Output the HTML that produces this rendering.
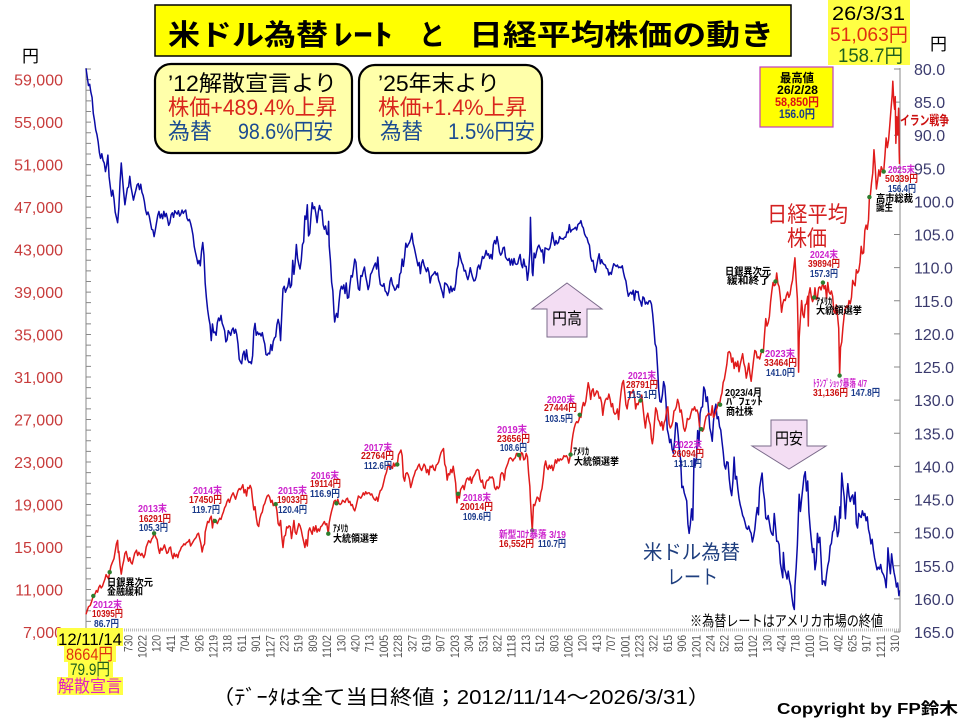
<!DOCTYPE html>
<html><head><meta charset="utf-8"><style>
html,body{margin:0;padding:0;background:#fff;}
svg{display:block;}
.jp{font-family:"Liberation Sans","Noto Sans CJK JP",sans-serif;}
.an{font-family:"Liberation Sans","Noto Sans CJK JP",sans-serif;font-weight:bold;font-size:10px;}
.mg{fill:#CC22CC}.rd{fill:#CC1111}.bl{fill:#1A3A8A}.bk{fill:#000}
</style></head><body>
<svg width="960" height="720" viewBox="0 0 960 720" xmlns="http://www.w3.org/2000/svg" class="jp">
<rect x="0" y="0" width="960" height="720" fill="#fff"/>

<!-- axes -->
<line x1="86" y1="68" x2="86" y2="632" stroke="#888" stroke-width="1"/>
<line x1="88.5" y1="632.5" x2="88.5" y2="68" stroke="#888" stroke-width="5" stroke-dasharray="1 9.623"/>
<line x1="900" y1="68" x2="900" y2="632" stroke="#888" stroke-width="1"/>
<line x1="897" y1="632.5" x2="897" y2="68" stroke="#888" stroke-width="6" stroke-dasharray="1 32.12"/>
<line x1="86" y1="630" x2="900" y2="630" stroke="#bbb" stroke-width="3" stroke-dasharray="1 1"/>

<!-- left labels -->
<g font-size="16" fill="#C83C3C" text-anchor="end" font-family="Liberation Sans, sans-serif">
<text x="63" y="85.6">59,000</text><text x="63" y="128.1">55,000</text><text x="63" y="170.6">51,000</text>
<text x="63" y="213.1">47,000</text><text x="63" y="255.6">43,000</text><text x="63" y="298.1">39,000</text>
<text x="63" y="340.6">35,000</text><text x="63" y="383">31,000</text><text x="63" y="425.5">27,000</text>
<text x="63" y="468">23,000</text><text x="63" y="510.5">19,000</text><text x="63" y="553">15,000</text>
<text x="63" y="595.5">11,000</text><text x="63" y="638">7,000</text>
</g>
<!-- right labels -->
<g font-size="16" fill="#3B3B6E" font-family="Liberation Sans, sans-serif">
<text x="914" y="75">80.0</text><text x="914" y="108.1">85.0</text><text x="914" y="141.2">90.0</text>
<text x="914" y="174.4">95.0</text><text x="914" y="207.5">100.0</text><text x="914" y="240.6">105.0</text>
<text x="914" y="273.7">110.0</text><text x="914" y="306.8">115.0</text><text x="914" y="340">120.0</text>
<text x="914" y="373.1">125.0</text><text x="914" y="406.2">130.0</text><text x="914" y="439.3">135.0</text>
<text x="914" y="472.4">140.0</text><text x="914" y="505.6">145.0</text><text x="914" y="538.7">150.0</text>
<text x="914" y="571.8">155.0</text><text x="914" y="604.9">160.0</text><text x="914" y="638">165.0</text>
</g>
<text x="22" y="62" font-size="17" fill="#000">円</text>
<text x="930" y="50" font-size="17" fill="#000">円</text>

<!-- x labels -->
<g font-size="12" fill="#555" text-anchor="end" font-family="Liberation Sans, sans-serif" lengthAdjust="spacingAndGlyphs">
<text transform="translate(132.3,635) rotate(-90)" textLength="17" lengthAdjust="spacingAndGlyphs">730</text>
<text transform="translate(146.5,635) rotate(-90)" textLength="23" lengthAdjust="spacingAndGlyphs">1022</text>
<text transform="translate(160.7,635) rotate(-90)" textLength="17" lengthAdjust="spacingAndGlyphs">120</text>
<text transform="translate(174.9,635) rotate(-90)" textLength="17" lengthAdjust="spacingAndGlyphs">411</text>
<text transform="translate(189.1,635) rotate(-90)" textLength="17" lengthAdjust="spacingAndGlyphs">704</text>
<text transform="translate(203.3,635) rotate(-90)" textLength="17" lengthAdjust="spacingAndGlyphs">926</text>
<text transform="translate(217.5,635) rotate(-90)" textLength="23" lengthAdjust="spacingAndGlyphs">1219</text>
<text transform="translate(231.7,635) rotate(-90)" textLength="17" lengthAdjust="spacingAndGlyphs">318</text>
<text transform="translate(245.9,635) rotate(-90)" textLength="17" lengthAdjust="spacingAndGlyphs">611</text>
<text transform="translate(260.1,635) rotate(-90)" textLength="17" lengthAdjust="spacingAndGlyphs">901</text>
<text transform="translate(274.3,635) rotate(-90)" textLength="23" lengthAdjust="spacingAndGlyphs">1127</text>
<text transform="translate(288.5,635) rotate(-90)" textLength="17" lengthAdjust="spacingAndGlyphs">223</text>
<text transform="translate(302.7,635) rotate(-90)" textLength="17" lengthAdjust="spacingAndGlyphs">519</text>
<text transform="translate(316.9,635) rotate(-90)" textLength="17" lengthAdjust="spacingAndGlyphs">809</text>
<text transform="translate(331.1,635) rotate(-90)" textLength="23" lengthAdjust="spacingAndGlyphs">1102</text>
<text transform="translate(345.3,635) rotate(-90)" textLength="17" lengthAdjust="spacingAndGlyphs">130</text>
<text transform="translate(359.5,635) rotate(-90)" textLength="17" lengthAdjust="spacingAndGlyphs">420</text>
<text transform="translate(373.7,635) rotate(-90)" textLength="17" lengthAdjust="spacingAndGlyphs">713</text>
<text transform="translate(387.9,635) rotate(-90)" textLength="23" lengthAdjust="spacingAndGlyphs">1005</text>
<text transform="translate(402.1,635) rotate(-90)" textLength="23" lengthAdjust="spacingAndGlyphs">1228</text>
<text transform="translate(416.3,635) rotate(-90)" textLength="17" lengthAdjust="spacingAndGlyphs">327</text>
<text transform="translate(430.5,635) rotate(-90)" textLength="17" lengthAdjust="spacingAndGlyphs">619</text>
<text transform="translate(444.7,635) rotate(-90)" textLength="17" lengthAdjust="spacingAndGlyphs">907</text>
<text transform="translate(458.9,635) rotate(-90)" textLength="23" lengthAdjust="spacingAndGlyphs">1203</text>
<text transform="translate(473.1,635) rotate(-90)" textLength="17" lengthAdjust="spacingAndGlyphs">304</text>
<text transform="translate(487.3,635) rotate(-90)" textLength="17" lengthAdjust="spacingAndGlyphs">531</text>
<text transform="translate(501.5,635) rotate(-90)" textLength="17" lengthAdjust="spacingAndGlyphs">822</text>
<text transform="translate(515.7,635) rotate(-90)" textLength="23" lengthAdjust="spacingAndGlyphs">1118</text>
<text transform="translate(529.9,635) rotate(-90)" textLength="17" lengthAdjust="spacingAndGlyphs">213</text>
<text transform="translate(544.1,635) rotate(-90)" textLength="17" lengthAdjust="spacingAndGlyphs">512</text>
<text transform="translate(558.3,635) rotate(-90)" textLength="17" lengthAdjust="spacingAndGlyphs">803</text>
<text transform="translate(572.5,635) rotate(-90)" textLength="23" lengthAdjust="spacingAndGlyphs">1026</text>
<text transform="translate(586.7,635) rotate(-90)" textLength="17" lengthAdjust="spacingAndGlyphs">120</text>
<text transform="translate(600.9,635) rotate(-90)" textLength="17" lengthAdjust="spacingAndGlyphs">413</text>
<text transform="translate(615.1,635) rotate(-90)" textLength="17" lengthAdjust="spacingAndGlyphs">707</text>
<text transform="translate(629.3,635) rotate(-90)" textLength="23" lengthAdjust="spacingAndGlyphs">1001</text>
<text transform="translate(643.5,635) rotate(-90)" textLength="23" lengthAdjust="spacingAndGlyphs">1223</text>
<text transform="translate(657.7,635) rotate(-90)" textLength="17" lengthAdjust="spacingAndGlyphs">322</text>
<text transform="translate(671.9,635) rotate(-90)" textLength="17" lengthAdjust="spacingAndGlyphs">615</text>
<text transform="translate(686.1,635) rotate(-90)" textLength="17" lengthAdjust="spacingAndGlyphs">906</text>
<text transform="translate(700.3,635) rotate(-90)" textLength="23" lengthAdjust="spacingAndGlyphs">1201</text>
<text transform="translate(714.5,635) rotate(-90)" textLength="17" lengthAdjust="spacingAndGlyphs">224</text>
<text transform="translate(728.7,635) rotate(-90)" textLength="17" lengthAdjust="spacingAndGlyphs">522</text>
<text transform="translate(742.9,635) rotate(-90)" textLength="17" lengthAdjust="spacingAndGlyphs">810</text>
<text transform="translate(757.1,635) rotate(-90)" textLength="23" lengthAdjust="spacingAndGlyphs">1102</text>
<text transform="translate(771.3,635) rotate(-90)" textLength="17" lengthAdjust="spacingAndGlyphs">130</text>
<text transform="translate(785.5,635) rotate(-90)" textLength="17" lengthAdjust="spacingAndGlyphs">424</text>
<text transform="translate(799.7,635) rotate(-90)" textLength="17" lengthAdjust="spacingAndGlyphs">718</text>
<text transform="translate(813.9,635) rotate(-90)" textLength="23" lengthAdjust="spacingAndGlyphs">1010</text>
<text transform="translate(828.1,635) rotate(-90)" textLength="17" lengthAdjust="spacingAndGlyphs">107</text>
<text transform="translate(842.3,635) rotate(-90)" textLength="17" lengthAdjust="spacingAndGlyphs">402</text>
<text transform="translate(856.5,635) rotate(-90)" textLength="17" lengthAdjust="spacingAndGlyphs">625</text>
<text transform="translate(870.7,635) rotate(-90)" textLength="17" lengthAdjust="spacingAndGlyphs">917</text>
<text transform="translate(884.9,635) rotate(-90)" textLength="23" lengthAdjust="spacingAndGlyphs">1211</text>
<text transform="translate(899.1,635) rotate(-90)" textLength="17" lengthAdjust="spacingAndGlyphs">310</text>
</g>

<!-- USD/JPY series (inverted) -->
<g transform="matrix(60.8,0,0,6.624,-122296.496,-460.92)">
<polyline fill="none" stroke="#0B0BA6" stroke-width="1.5" vector-effect="non-scaling-stroke" stroke-linejoin="round" points="
2012.87,79.9 2012.89,81.2 2012.91,82.5 2012.93,82.3 2012.95,83.5 2012.97,84.3 2012.99,86.7 2013.01,87.8 2013.03,89.2 2013.05,89.9 2013.07,91.0 2013.09,92.6 2013.11,93.5 2013.13,92.8 2013.15,93.8 2013.17,94.2 2013.19,95.5 2013.21,94.5 2013.23,93.0 2013.25,96.3 2013.27,97.8 2013.29,99.2 2013.31,98.3 2013.33,99.6 2013.35,101.6 2013.37,102.4 2013.39,103.2 2013.41,101.0 2013.43,97.0 2013.45,94.2 2013.47,96.5 2013.49,98.7 2013.51,100.5 2013.53,99.2 2013.55,98.0 2013.57,97.8 2013.59,96.2 2013.61,97.8 2013.63,98.8 2013.65,99.8 2013.67,99.0 2013.69,98.3 2013.71,97.5 2013.73,97.3 2013.75,98.2 2013.77,97.4 2013.79,98.6 2013.81,99.1 2013.83,100.0 2013.85,101.3 2013.87,102.0 2013.89,101.6 2013.91,102.2 2013.93,103.2 2013.95,104.2 2013.97,104.3 2013.99,105.3
2014.01,104.3 2014.03,103.2 2014.05,102.1 2014.07,101.5 2014.09,102.5 2014.11,101.9 2014.13,102.6 2014.15,101.5 2014.17,102.3 2014.19,101.8 2014.21,102.6 2014.23,103.6 2014.25,103.2 2014.27,102.0 2014.29,101.7 2014.31,102.4 2014.33,101.4 2014.35,101.7 2014.37,101.9 2014.39,101.4 2014.41,102.2 2014.43,101.9 2014.45,101.3 2014.47,101.8 2014.49,101.5 2014.51,101.3 2014.53,102.5 2014.55,102.9 2014.57,102.7 2014.59,103.3 2014.61,104.1 2014.63,105.1 2014.65,106.8 2014.67,107.7 2014.69,108.5 2014.71,109.4 2014.73,108.9 2014.75,109.7 2014.77,107.5 2014.79,106.2 2014.81,108.1 2014.83,112.3 2014.85,114.5 2014.87,116.3 2014.89,117.6 2014.91,118.6 2014.93,121.0 2014.95,118.5 2014.97,119.8 2014.99,119.7
2015.01,120.2 2015.03,118.3 2015.05,117.6 2015.07,118.0 2015.09,117.2 2015.11,118.4 2015.13,118.9 2015.15,119.5 2015.17,121.2 2015.19,120.9 2015.21,119.5 2015.23,119.8 2015.25,120.2 2015.27,119.4 2015.29,119.1 2015.31,119.9 2015.33,119.3 2015.35,120.1 2015.37,121.5 2015.39,123.8 2015.41,124.2 2015.43,124.5 2015.45,123.1 2015.47,122.6 2015.49,123.9 2015.51,122.4 2015.53,123.9 2015.55,124.3 2015.57,124.2 2015.59,124.5 2015.61,123.3 2015.63,119.5 2015.65,118.4 2015.67,120.2 2015.69,119.7 2015.71,120.1 2015.73,119.9 2015.75,120.3 2015.77,119.8 2015.79,120.8 2015.81,121.5 2015.83,123.1 2015.85,123.2 2015.87,122.9 2015.89,123.0 2015.91,121.6 2015.93,122.5 2015.95,121.1 2015.97,120.6 2015.99,120.4
2016.01,118.6 2016.03,117.8 2016.05,118.6 2016.07,121.0 2016.09,117.0 2016.11,113.2 2016.13,112.8 2016.15,113.7 2016.17,113.2 2016.19,112.8 2016.21,111.6 2016.23,113.0 2016.25,112.6 2016.27,108.9 2016.29,111.0 2016.31,109.2 2016.33,106.5 2016.35,108.6 2016.37,109.5 2016.39,110.2 2016.41,108.9 2016.43,106.5 2016.45,106.1 2016.47,102.2 2016.49,102.7 2016.51,100.5 2016.53,105.2 2016.55,104.8 2016.57,102.3 2016.59,100.2 2016.61,101.1 2016.63,100.8 2016.65,101.8 2016.67,103.2 2016.69,101.6 2016.71,100.6 2016.73,101.3 2016.75,101.3 2016.77,103.5 2016.79,104.2 2016.81,103.7 2016.83,104.9 2016.85,105.0 2016.86,103.0 2016.87,106.7 2016.89,108.9 2016.91,112.2 2016.93,113.5 2016.95,117.0 2016.96,118.2 2016.98,117.2 2016.99,116.9
2017.01,117.5 2017.03,115.3 2017.05,113.5 2017.07,112.8 2017.09,113.2 2017.11,112.6 2017.13,113.9 2017.15,112.3 2017.17,114.6 2017.19,114.5 2017.21,112.7 2017.23,111.2 2017.25,111.4 2017.27,110.1 2017.29,108.7 2017.31,109.2 2017.33,111.5 2017.35,113.2 2017.37,113.4 2017.39,111.2 2017.41,111.3 2017.43,110.5 2017.45,109.9 2017.47,111.3 2017.49,112.2 2017.51,113.3 2017.53,112.6 2017.55,111.0 2017.57,110.7 2017.59,110.2 2017.61,109.7 2017.63,109.3 2017.65,110.2 2017.67,108.4 2017.69,111.1 2017.71,112.5 2017.73,112.7 2017.75,112.8 2017.77,112.4 2017.79,113.5 2017.81,113.7 2017.83,114.2 2017.85,113.6 2017.87,112.1 2017.89,111.5 2017.91,112.5 2017.93,112.9 2017.95,113.4 2017.97,113.2 2017.99,112.6
2018.01,113.0 2018.03,111.0 2018.05,110.7 2018.07,108.7 2018.09,109.8 2018.11,108.3 2018.13,106.3 2018.15,106.9 2018.17,106.5 2018.19,106.2 2018.21,105.7 2018.23,104.8 2018.25,106.3 2018.27,107.0 2018.29,107.9 2018.31,108.8 2018.33,109.7 2018.35,109.2 2018.37,110.9 2018.39,109.3 2018.41,108.8 2018.43,109.6 2018.45,110.1 2018.47,110.6 2018.49,110.0 2018.51,110.7 2018.53,112.3 2018.55,111.3 2018.57,111.1 2018.59,110.9 2018.61,110.6 2018.63,111.1 2018.65,110.8 2018.67,111.9 2018.69,112.4 2018.71,113.1 2018.73,113.7 2018.75,114.5 2018.77,112.3 2018.79,112.4 2018.81,112.6 2018.83,113.0 2018.85,113.8 2018.87,112.8 2018.89,113.6 2018.91,113.1 2018.93,113.4 2018.95,112.4 2018.97,110.3 2018.99,109.6
2019.01,107.7 2019.03,108.5 2019.05,109.2 2019.07,109.6 2019.09,110.5 2019.11,110.4 2019.13,111.2 2019.15,111.8 2019.17,111.1 2019.19,110.0 2019.21,110.8 2019.23,111.5 2019.25,112.0 2019.27,111.9 2019.29,111.3 2019.31,110.0 2019.33,109.6 2019.35,110.2 2019.37,109.3 2019.39,108.3 2019.41,108.6 2019.43,108.2 2019.45,107.4 2019.47,108.1 2019.49,107.9 2019.51,108.6 2019.53,108.0 2019.55,108.7 2019.57,106.5 2019.59,105.9 2019.61,106.4 2019.63,105.3 2019.65,106.3 2019.67,107.6 2019.69,108.1 2019.71,107.8 2019.73,107.0 2019.75,106.9 2019.77,108.4 2019.79,108.7 2019.81,108.9 2019.83,108.6 2019.85,109.6 2019.87,108.7 2019.89,109.6 2019.91,108.6 2019.93,109.4 2019.95,109.5 2019.97,109.4 2019.99,108.6
2020.01,108.0 2020.03,109.5 2020.05,110.0 2020.07,108.7 2020.09,109.8 2020.11,109.8 2020.13,111.9 2020.15,110.5 2020.17,107.7 2020.18,102.4 2020.19,105.8 2020.21,110.7 2020.22,111.2 2020.24,107.8 2020.26,108.5 2020.28,107.6 2020.30,106.9 2020.32,106.6 2020.34,107.1 2020.36,107.6 2020.38,107.3 2020.40,109.3 2020.42,107.0 2020.44,107.1 2020.46,107.2 2020.48,107.3 2020.50,107.0 2020.52,106.1 2020.54,104.7 2020.56,105.8 2020.58,106.6 2020.60,105.9 2020.62,106.4 2020.64,106.2 2020.66,105.3 2020.68,105.6 2020.70,105.6 2020.72,105.7 2020.74,105.4 2020.76,105.4 2020.78,104.6 2020.80,104.7 2020.82,103.5 2020.84,104.6 2020.86,104.3 2020.88,104.2 2020.90,104.1 2020.92,103.9 2020.94,104.3 2020.96,103.5 2020.98,103.3 2020.99,103.3
2021.01,102.9 2021.03,103.7 2021.05,104.0 2021.07,104.9 2021.09,105.3 2021.11,105.5 2021.13,106.2 2021.15,106.6 2021.17,108.4 2021.19,109.0 2021.21,108.9 2021.23,110.2 2021.25,110.7 2021.27,109.7 2021.29,108.7 2021.31,107.9 2021.33,109.4 2021.35,108.8 2021.37,109.3 2021.39,109.5 2021.41,109.6 2021.43,110.1 2021.45,110.2 2021.47,111.1 2021.49,110.7 2021.51,111.0 2021.53,110.1 2021.55,109.4 2021.57,109.6 2021.59,109.8 2021.61,109.6 2021.63,110.0 2021.65,109.9 2021.67,110.0 2021.69,109.7 2021.71,110.7 2021.73,111.5 2021.75,112.0 2021.77,113.3 2021.79,114.3 2021.81,113.9 2021.83,113.7 2021.85,114.0 2021.87,113.4 2021.89,114.9 2021.91,113.5 2021.93,113.7 2021.95,113.6 2021.97,114.8 2021.99,115.1
2022.01,115.8 2022.03,114.4 2022.05,114.6 2022.07,115.5 2022.09,115.2 2022.11,115.5 2022.13,115.0 2022.15,115.0 2022.17,115.5 2022.19,117.0 2022.21,119.1 2022.23,121.5 2022.25,122.0 2022.27,125.0 2022.29,128.5 2022.31,130.2 2022.33,130.3 2022.35,129.2 2022.37,127.2 2022.39,127.9 2022.41,130.4 2022.43,134.4 2022.45,135.2 2022.47,136.4 2022.49,135.9 2022.51,137.4 2022.53,138.0 2022.55,136.2 2022.57,133.4 2022.59,133.5 2022.61,135.3 2022.63,137.6 2022.65,139.0 2022.67,143.2 2022.69,143.0 2022.71,144.0 2022.73,144.6 2022.75,145.2 2022.77,148.7 2022.79,150.1 2022.81,148.7 2022.83,146.4 2022.85,148.1 2022.87,138.8 2022.89,139.9 2022.91,138.8 2022.93,134.6 2022.95,136.9 2022.97,132.0 2022.99,131.1
2023.01,131.0 2023.03,128.0 2023.05,128.5 2023.07,130.2 2023.09,129.5 2023.11,131.6 2023.13,134.2 2023.15,135.0 2023.17,136.2 2023.19,133.2 2023.21,131.5 2023.23,130.6 2023.25,132.8 2023.27,132.5 2023.29,134.0 2023.31,134.5 2023.33,136.2 2023.35,137.8 2023.37,139.8 2023.39,140.4 2023.41,139.3 2023.43,139.4 2023.45,141.9 2023.47,143.5 2023.49,144.4 2023.51,142.2 2023.53,138.6 2023.55,141.9 2023.57,141.5 2023.59,143.3 2023.61,144.8 2023.63,145.8 2023.65,146.5 2023.67,147.4 2023.69,147.8 2023.71,148.5 2023.73,149.3 2023.75,149.5 2023.77,149.0 2023.79,149.7 2023.81,150.1 2023.83,151.4 2023.85,150.6 2023.87,149.5 2023.89,147.6 2023.91,146.2 2023.93,147.3 2023.95,143.2 2023.97,142.0 2023.99,141.0
2024.01,143.7 2024.03,145.0 2024.05,147.8 2024.07,148.0 2024.09,147.4 2024.11,148.5 2024.13,149.7 2024.15,150.2 2024.17,150.4 2024.19,147.1 2024.21,149.1 2024.23,151.3 2024.25,151.3 2024.27,151.8 2024.29,154.6 2024.31,155.7 2024.33,156.8 2024.34,153.0 2024.36,155.5 2024.38,156.1 2024.40,157.0 2024.42,155.8 2024.44,157.2 2024.46,158.0 2024.48,159.7 2024.50,161.0 2024.52,161.6 2024.53,158.0 2024.55,155.3 2024.57,151.9 2024.59,146.5 2024.60,144.2 2024.62,146.8 2024.64,144.9 2024.66,143.2 2024.68,141.5 2024.70,140.8 2024.72,143.7 2024.74,142.2 2024.76,146.9 2024.78,149.2 2024.80,151.2 2024.82,153.0 2024.84,152.4 2024.86,155.6 2024.88,154.3 2024.90,150.1 2024.92,151.5 2024.94,150.7 2024.96,153.9 2024.98,157.8 2024.99,157.3
2025.01,157.3 2025.03,158.0 2025.05,156.3 2025.07,155.0 2025.09,154.2 2025.11,152.0 2025.13,151.6 2025.15,149.9 2025.17,149.6 2025.19,147.5 2025.21,148.7 2025.23,150.6 2025.25,149.8 2025.27,146.1 2025.28,147.8 2025.30,141.0 2025.32,143.0 2025.34,144.6 2025.36,147.9 2025.38,144.9 2025.40,142.6 2025.42,144.4 2025.44,145.3 2025.46,144.6 2025.48,144.3 2025.50,145.7 2025.52,143.9 2025.54,148.7 2025.56,149.3 2025.58,147.1 2025.60,147.5 2025.62,147.7 2025.64,146.7 2025.66,147.4 2025.68,147.1 2025.70,148.2 2025.72,147.6 2025.74,149.5 2025.76,150.3 2025.78,151.7 2025.80,151.0 2025.82,152.6 2025.84,153.8 2025.86,154.7 2025.88,155.6 2025.90,155.2 2025.92,155.5 2025.94,154.8 2025.96,155.9 2025.99,156.4
2026.01,157.0 2026.03,158.3 2026.05,155.0 2026.06,152.3 2026.08,154.5 2026.10,156.2 2026.12,153.2 2026.14,154.8 2026.16,156.0 2026.18,156.9 2026.20,158.2 2026.22,157.6 2026.24,159.5 2026.25,158.7"/>
</g>

<!-- Nikkei series -->
<g transform="matrix(60.8,0,0,-0.010623,-122296.496,706.361)">
<polyline fill="none" stroke="#E01B1B" stroke-width="1.5" vector-effect="non-scaling-stroke" stroke-linejoin="round" points="
2012.87,8664 2012.89,9020 2012.91,9370 2012.94,9500 2012.96,9830 2012.99,10395 2013.02,10600 2013.04,10900 2013.06,10750 2013.08,11190 2013.10,11400 2013.12,11150 2013.14,11300 2013.16,11650 2013.18,11950 2013.20,12400 2013.22,12200 2013.24,12000 2013.26,12630 2013.28,13200 2013.30,13500 2013.33,13900 2013.35,14600 2013.37,15300 2013.39,15627 2013.40,14480 2013.41,14600 2013.43,13260 2013.45,12445 2013.47,13200 2013.49,13700 2013.51,14400 2013.53,14590 2013.55,14050 2013.57,13660 2013.59,14000 2013.61,13540 2013.63,13400 2013.65,13900 2013.67,14400 2013.70,14700 2013.72,14200 2013.74,14500 2013.77,14200 2013.79,14400 2013.82,14000 2013.84,14300 2013.86,15000 2013.88,15300 2013.90,15600 2013.93,15400 2013.95,15750 2013.97,15900 2013.99,16291
2014.02,15900 2014.04,15700 2014.06,14900 2014.08,14400 2014.10,14900 2014.12,14700 2014.14,14900 2014.16,15200 2014.18,14800 2014.20,14400 2014.22,14500 2014.24,14900 2014.26,15000 2014.28,14300 2014.30,13910 2014.32,14400 2014.34,14100 2014.36,14300 2014.38,14000 2014.40,14500 2014.42,14700 2014.44,15000 2014.46,15100 2014.48,15300 2014.50,15200 2014.52,15400 2014.55,15500 2014.57,15700 2014.59,15100 2014.61,15300 2014.63,15500 2014.65,15700 2014.68,15900 2014.70,16200 2014.72,16300 2014.74,15800 2014.76,15300 2014.78,14530 2014.80,15100 2014.82,15300 2014.83,16400 2014.85,16900 2014.87,17400 2014.89,17300 2014.91,17700 2014.93,17900 2014.95,16800 2014.97,17600 2014.99,17450
2015.01,17400 2015.03,17200 2015.05,17500 2015.07,17700 2015.09,17600 2015.11,18000 2015.13,18300 2015.15,18700 2015.17,18900 2015.19,19300 2015.21,19500 2015.23,19200 2015.25,19600 2015.27,19900 2015.29,20100 2015.31,19800 2015.33,19500 2015.35,19900 2015.37,20300 2015.39,20500 2015.41,20400 2015.43,20600 2015.45,20868 2015.47,20100 2015.49,20400 2015.51,19800 2015.53,20600 2015.55,20500 2015.57,20800 2015.59,20500 2015.61,19400 2015.63,18500 2015.65,18800 2015.67,17800 2015.69,17100 2015.71,16930 2015.73,17700 2015.75,18100 2015.77,18300 2015.79,18900 2015.81,19100 2015.83,19500 2015.85,19800 2015.87,19900 2015.89,19700 2015.91,19200 2015.93,19400 2015.95,18900 2015.97,19000 2015.99,19033
2016.01,18400 2016.03,17200 2016.05,17000 2016.07,17500 2016.09,16000 2016.11,14950 2016.13,16000 2016.15,16100 2016.17,16900 2016.19,16800 2016.21,17000 2016.23,16900 2016.25,15800 2016.27,16600 2016.29,17500 2016.31,16400 2016.33,16200 2016.35,16700 2016.37,17200 2016.39,17000 2016.41,16600 2016.43,16000 2016.45,15500 2016.47,14952 2016.49,15700 2016.51,15100 2016.53,16500 2016.55,16800 2016.57,16500 2016.59,16200 2016.61,16900 2016.63,16500 2016.65,17000 2016.67,16400 2016.69,16700 2016.71,16500 2016.73,16900 2016.75,17000 2016.77,17200 2016.79,17400 2016.81,17100 2016.83,17200 2016.855,16250 2016.87,17300 2016.89,17900 2016.91,18400 2016.93,18800 2016.95,19300 2016.97,19400 2016.99,19114
2017.01,19500 2017.03,19100 2017.05,19000 2017.07,19100 2017.09,19400 2017.11,19300 2017.13,19200 2017.15,19500 2017.17,19600 2017.19,19200 2017.21,19300 2017.23,18900 2017.25,19000 2017.27,18600 2017.29,18400 2017.31,18800 2017.33,19300 2017.35,19800 2017.37,19700 2017.39,19600 2017.41,19800 2017.43,20100 2017.45,19900 2017.47,20200 2017.49,20000 2017.51,20100 2017.53,20100 2017.55,19900 2017.57,20000 2017.59,19700 2017.61,19500 2017.63,19400 2017.65,19700 2017.67,19300 2017.69,19900 2017.71,20300 2017.73,20400 2017.75,20700 2017.77,21200 2017.79,21700 2017.81,22000 2017.83,22500 2017.85,22800 2017.87,22400 2017.89,22600 2017.91,22400 2017.93,22900 2017.95,22600 2017.97,22900 2017.99,22764
2018.01,23700 2018.03,23900 2018.05,24124 2018.07,23600 2018.09,21600 2018.11,21200 2018.13,21900 2018.15,22000 2018.17,21800 2018.19,21400 2018.21,20600 2018.23,21000 2018.25,21500 2018.27,21800 2018.29,22200 2018.31,22300 2018.33,22600 2018.35,22800 2018.37,22400 2018.39,22200 2018.41,22500 2018.43,22800 2018.45,22600 2018.47,22000 2018.49,22300 2018.51,21800 2018.53,22600 2018.55,22500 2018.57,22700 2018.59,22300 2018.61,22200 2018.63,22700 2018.65,22800 2018.67,23000 2018.69,23500 2018.71,23900 2018.73,24100 2018.75,24270 2018.77,22800 2018.79,22500 2018.81,21300 2018.83,21900 2018.85,21800 2018.87,22300 2018.89,22000 2018.91,22600 2018.93,21800 2018.95,21000 2018.97,19155 2018.99,20014
2019.01,19600 2019.03,20400 2019.05,20600 2019.07,20800 2019.09,20400 2019.11,21000 2019.13,21400 2019.15,21500 2019.17,21300 2019.19,21600 2019.21,21000 2019.23,21500 2019.25,21700 2019.27,21900 2019.29,22200 2019.31,22300 2019.33,22200 2019.35,21400 2019.37,21100 2019.39,21300 2019.41,20600 2019.43,20500 2019.45,21100 2019.47,21300 2019.49,21300 2019.51,21600 2019.53,21500 2019.55,21600 2019.57,21400 2019.59,20600 2019.61,20400 2019.63,20700 2019.65,20500 2019.67,20700 2019.69,21800 2019.71,22000 2019.73,21900 2019.75,21300 2019.77,22300 2019.79,22600 2019.81,22900 2019.83,23300 2019.85,23400 2019.87,23300 2019.89,23100 2019.91,23300 2019.93,23400 2019.95,23800 2019.97,23800 2019.99,23656
2020.01,23200 2020.03,23900 2020.05,23800 2020.07,23200 2020.09,23300 2020.11,23800 2020.13,23500 2020.15,21900 2020.17,20700 2020.18,19400 2020.20,17400 2020.21,16552 2020.23,19000 2020.25,18900 2020.27,19300 2020.29,19700 2020.31,19600 2020.33,19300 2020.35,20100 2020.37,20500 2020.39,21400 2020.41,22600 2020.43,23100 2020.45,22500 2020.47,22300 2020.49,22700 2020.51,22400 2020.53,22700 2020.55,22200 2020.57,22600 2020.59,23200 2020.61,22900 2020.63,23300 2020.65,23100 2020.67,23300 2020.69,23200 2020.71,23300 2020.73,23600 2020.75,23500 2020.77,23600 2020.79,23400 2020.81,22900 2020.84,23695 2020.86,24800 2020.88,25600 2020.90,26200 2020.92,26600 2020.94,26800 2020.96,26700 2020.98,27000 2020.99,27444
2021.01,27200 2021.03,28100 2021.05,28600 2021.07,28300 2021.09,28700 2021.11,29600 2021.13,30467 2021.15,29900 2021.17,28900 2021.19,29700 2021.21,29900 2021.23,29200 2021.25,29400 2021.27,29700 2021.29,29600 2021.31,29000 2021.33,29100 2021.35,28600 2021.37,27400 2021.39,28300 2021.41,28800 2021.43,29000 2021.45,28900 2021.47,29400 2021.49,28900 2021.51,28200 2021.53,28500 2021.55,27700 2021.57,27500 2021.59,27600 2021.61,28000 2021.63,27000 2021.65,28500 2021.67,29600 2021.69,30400 2021.71,30670 2021.73,29600 2021.75,28400 2021.77,28000 2021.79,28800 2021.81,29000 2021.83,29600 2021.85,29500 2021.87,29800 2021.89,29300 2021.91,28000 2021.93,28500 2021.95,28400 2021.97,28800 2021.99,28791
2022.01,29300 2022.03,28200 2022.05,27100 2022.07,26200 2022.09,27200 2022.11,27600 2022.13,26900 2022.15,26500 2022.17,25200 2022.185,24717 2022.20,25300 2022.22,26800 2022.24,28100 2022.26,27800 2022.28,27000 2022.30,26800 2022.32,26400 2022.34,26800 2022.36,26000 2022.38,26700 2022.40,27000 2022.42,27900 2022.44,28200 2022.46,26600 2022.48,26200 2022.50,26400 2022.52,26800 2022.54,27800 2022.56,27900 2022.58,28200 2022.60,28900 2022.62,28500 2022.64,27700 2022.66,27900 2022.68,27100 2022.70,26200 2022.72,25900 2022.74,26300 2022.76,27100 2022.78,27000 2022.80,27100 2022.82,27600 2022.84,28000 2022.86,27900 2022.88,28200 2022.90,27800 2022.92,27900 2022.94,27500 2022.96,26400 2022.98,26100 2022.99,26094
2023.01,25900 2023.03,26100 2023.05,26800 2023.07,27300 2023.09,27400 2023.11,27600 2023.13,27500 2023.15,27400 2023.17,28300 2023.19,27200 2023.21,27400 2023.23,27800 2023.25,28100 2023.27,28600 2023.29,28400 2023.31,29100 2023.33,29500 2023.35,30500 2023.37,30800 2023.39,31500 2023.41,32200 2023.43,33300 2023.45,33400 2023.47,33200 2023.49,32400 2023.51,32800 2023.53,31800 2023.55,32400 2023.57,32000 2023.59,32500 2023.61,31500 2023.63,32200 2023.65,32700 2023.67,33200 2023.69,32300 2023.71,31900 2023.73,30900 2023.75,31500 2023.77,32300 2023.79,31300 2023.81,30600 2023.83,31600 2023.85,32600 2023.87,33500 2023.89,33400 2023.91,32800 2023.93,32900 2023.95,32700 2023.97,33200 2023.99,33464
2024.01,33300 2024.03,35000 2024.05,36500 2024.07,35800 2024.09,36100 2024.11,36700 2024.13,38100 2024.15,39100 2024.17,39900 2024.19,39600 2024.21,39700 2024.23,40800 2024.25,39800 2024.27,39500 2024.29,38500 2024.31,37100 2024.33,37900 2024.35,38300 2024.37,38200 2024.39,38700 2024.41,39000 2024.43,38500 2024.45,38800 2024.47,39600 2024.49,40100 2024.51,41200 2024.53,42224 2024.55,40100 2024.57,38400 2024.58,35900 2024.59,31458 2024.60,34700 2024.62,36500 2024.64,38200 2024.66,36900 2024.68,36600 2024.70,37800 2024.72,37900 2024.74,38600 2024.75,35800 2024.76,38800 2024.78,39400 2024.80,38500 2024.82,38100 2024.845,38500 2024.86,39400 2024.88,38300 2024.90,38500 2024.92,39400 2024.94,39500 2024.96,39200 2024.99,39894
2025.01,39300 2025.03,39600 2025.05,38400 2025.07,39900 2025.09,39000 2025.11,38800 2025.13,39100 2025.15,38600 2025.17,37200 2025.19,37000 2025.21,37800 2025.23,36800 2025.25,35600 2025.265,31136 2025.28,33800 2025.30,34300 2025.32,35700 2025.34,36800 2025.36,37500 2025.38,37700 2025.40,37500 2025.42,38200 2025.44,37900 2025.46,38500 2025.48,40100 2025.50,39800 2025.52,39600 2025.54,41100 2025.56,40800 2025.58,41000 2025.60,41800 2025.62,43300 2025.64,42600 2025.66,42700 2025.68,44800 2025.70,45300 2025.72,44900 2025.74,45800 2025.755,47944 2025.77,48100 2025.79,49300 2025.81,50200 2025.83,52400 2025.85,50800 2025.87,48700 2025.89,49500 2025.91,50500 2025.93,49900 2025.95,50800 2025.97,50500 2025.99,50339
2026.01,51800 2026.03,53500 2026.05,52600 2026.07,53300 2026.09,54700 2026.11,56200 2026.13,57600 2026.14,58850 2026.155,57000 2026.17,56200 2026.18,57400 2026.19,53000 2026.205,55500 2026.22,53800 2026.235,56300 2026.245,52200 2026.25,51063"/>
</g>

<!-- event dots -->
<g fill="#2D7D2D">
<circle cx="93.3" cy="595.9" r="2.2"/><circle cx="109.7" cy="572.2" r="2.2"/><circle cx="154.1" cy="533.3" r="2.2"/>
<circle cx="214.9" cy="521" r="2.2"/><circle cx="275.7" cy="504.2" r="2.2"/><circle cx="328.3" cy="533.7" r="2.2"/>
<circle cx="336.5" cy="503.3" r="2.2"/><circle cx="397.3" cy="464.5" r="2.2"/><circle cx="458.1" cy="493.8" r="2.2"/>
<circle cx="518.9" cy="455.1" r="2.2"/><circle cx="532.3" cy="530.5" r="2.2"/><circle cx="570.6" cy="454.6" r="2.2"/>
<circle cx="579.7" cy="414.8" r="2.2"/><circle cx="640.5" cy="400.5" r="2.2"/><circle cx="701.3" cy="429.2" r="2.2"/>
<circle cx="720.1" cy="404.7" r="2.2"/><circle cx="762.1" cy="350.9" r="2.2"/><circle cx="775.5" cy="281.4" r="2.2"/>
<circle cx="814.1" cy="297.4" r="2.2"/><circle cx="822.9" cy="282.6" r="2.2"/><circle cx="839.6" cy="375.6" r="2.2"/>
<circle cx="869.4" cy="197.1" r="2.2"/><circle cx="883.7" cy="171.6" r="2.2"/>
</g>

<!-- annotations -->
<g class="an">
<text x="93" y="608" class="mg" textLength="29" lengthAdjust="spacingAndGlyphs">2012末</text>
<text x="92" y="617" class="rd" textLength="31" lengthAdjust="spacingAndGlyphs">10395円</text>
<text x="94" y="627" class="bl" textLength="25" lengthAdjust="spacingAndGlyphs">86.7円</text>
<text x="107" y="586" class="bk" textLength="46" lengthAdjust="spacingAndGlyphs">日銀異次元</text>
<text x="107" y="595" class="bk" textLength="36" lengthAdjust="spacingAndGlyphs">金融緩和</text>
<text x="138" y="512" class="mg" textLength="29" lengthAdjust="spacingAndGlyphs">2013末</text>
<text x="139" y="522" class="rd" textLength="32" lengthAdjust="spacingAndGlyphs">16291円</text>
<text x="139" y="531" class="bl" textLength="29" lengthAdjust="spacingAndGlyphs">105.3円</text>
<text x="193" y="494" class="mg" textLength="29" lengthAdjust="spacingAndGlyphs">2014末</text>
<text x="189" y="503" class="rd" textLength="33" lengthAdjust="spacingAndGlyphs">17450円</text>
<text x="192" y="513" class="bl" textLength="28" lengthAdjust="spacingAndGlyphs">119.7円</text>
<text x="278" y="494" class="mg" textLength="29" lengthAdjust="spacingAndGlyphs">2015末</text>
<text x="277" y="503" class="rd" textLength="31" lengthAdjust="spacingAndGlyphs">19033円</text>
<text x="278" y="513" class="bl" textLength="29" lengthAdjust="spacingAndGlyphs">120.4円</text>
<text x="311" y="479" class="mg" textLength="28" lengthAdjust="spacingAndGlyphs">2016末</text>
<text x="310" y="487" class="rd" textLength="31" lengthAdjust="spacingAndGlyphs">19114円</text>
<text x="310" y="497" class="bl" textLength="30" lengthAdjust="spacingAndGlyphs">116.9円</text>
<text x="333" y="532" class="bk" textLength="15" lengthAdjust="spacingAndGlyphs">ｱﾒﾘｶ</text>
<text x="333" y="542" class="bk" textLength="45" lengthAdjust="spacingAndGlyphs">大統領選挙</text>
<text x="364" y="451" class="mg" textLength="28" lengthAdjust="spacingAndGlyphs">2017末</text>
<text x="361" y="459" class="rd" textLength="33" lengthAdjust="spacingAndGlyphs">22764円</text>
<text x="364" y="469" class="bl" textLength="28" lengthAdjust="spacingAndGlyphs">112.6円</text>
<text x="463" y="501" class="mg" textLength="28" lengthAdjust="spacingAndGlyphs">2018末</text>
<text x="460" y="510" class="rd" textLength="33" lengthAdjust="spacingAndGlyphs">20014円</text>
<text x="463" y="520" class="bl" textLength="28" lengthAdjust="spacingAndGlyphs">109.6円</text>
<text x="497" y="433" class="mg" textLength="30" lengthAdjust="spacingAndGlyphs">2019末</text>
<text x="497" y="442" class="rd" textLength="33" lengthAdjust="spacingAndGlyphs">23656円</text>
<text x="500" y="451" class="bl" textLength="27" lengthAdjust="spacingAndGlyphs">108.6円</text>
<text x="499" y="538" class="mg" textLength="67" lengthAdjust="spacingAndGlyphs">新型ｺﾛﾅ暴落 3/19</text>
<text x="499" y="547" class="rd" textLength="35" lengthAdjust="spacingAndGlyphs">16,552円</text>
<text x="538" y="547" class="bl" textLength="28" lengthAdjust="spacingAndGlyphs">110.7円</text>
<text x="547" y="403" class="mg" textLength="28" lengthAdjust="spacingAndGlyphs">2020末</text>
<text x="544" y="411" class="rd" textLength="33" lengthAdjust="spacingAndGlyphs">27444円</text>
<text x="545" y="422" class="bl" textLength="28" lengthAdjust="spacingAndGlyphs">103.5円</text>
<text x="573" y="455" class="bk" textLength="16" lengthAdjust="spacingAndGlyphs">ｱﾒﾘｶ</text>
<text x="574" y="465" class="bk" textLength="45" lengthAdjust="spacingAndGlyphs">大統領選挙</text>
<text x="628" y="379" class="mg" textLength="28" lengthAdjust="spacingAndGlyphs">2021末</text>
<text x="626" y="388" class="rd" textLength="32" lengthAdjust="spacingAndGlyphs">28791円</text>
<text x="627" y="398" class="bl" textLength="30" lengthAdjust="spacingAndGlyphs">115.1円</text>
<text x="674" y="448" class="mg" textLength="28" lengthAdjust="spacingAndGlyphs">2022末</text>
<text x="672" y="457" class="rd" textLength="32" lengthAdjust="spacingAndGlyphs">26094円</text>
<text x="674" y="467" class="bl" textLength="28" lengthAdjust="spacingAndGlyphs">131.1円</text>
<text x="725" y="396" class="bk" textLength="37" lengthAdjust="spacingAndGlyphs">2023/4月</text>
<text x="726" y="405" class="bk" textLength="37" lengthAdjust="spacingAndGlyphs">ﾊﾞﾌｪｯﾄ</text>
<text x="726" y="415" class="bk" textLength="27" lengthAdjust="spacingAndGlyphs">商社株</text>
<text x="765" y="357" class="mg" textLength="30" lengthAdjust="spacingAndGlyphs">2023末</text>
<text x="764" y="366" class="rd" textLength="33" lengthAdjust="spacingAndGlyphs">33464円</text>
<text x="766" y="376" class="bl" textLength="29" lengthAdjust="spacingAndGlyphs">141.0円</text>
<text x="813" y="387" class="mg" textLength="54" lengthAdjust="spacingAndGlyphs">ﾄﾗﾝﾌﾟｼｮｯｸ暴落 4/7</text>
<text x="813" y="396" class="rd" textLength="35" lengthAdjust="spacingAndGlyphs">31,136円</text>
<text x="851" y="396" class="bl" textLength="29" lengthAdjust="spacingAndGlyphs">147.8円</text>
<text x="725" y="275" class="bk" textLength="46" lengthAdjust="spacingAndGlyphs">日銀異次元</text>
<text x="727" y="284" class="bk" textLength="43" lengthAdjust="spacingAndGlyphs">緩和終了</text>
<text x="810" y="258" class="mg" textLength="28" lengthAdjust="spacingAndGlyphs">2024末</text>
<text x="808" y="267" class="rd" textLength="32" lengthAdjust="spacingAndGlyphs">39894円</text>
<text x="810" y="277" class="bl" textLength="28" lengthAdjust="spacingAndGlyphs">157.3円</text>
<text x="816" y="305" class="bk" textLength="16" lengthAdjust="spacingAndGlyphs">ｱﾒﾘｶ</text>
<text x="816" y="314" class="bk" textLength="46" lengthAdjust="spacingAndGlyphs">大統領選挙</text>
<text x="888" y="173" class="mg" textLength="27" lengthAdjust="spacingAndGlyphs">2025末</text>
<text x="885" y="182" class="rd" textLength="33" lengthAdjust="spacingAndGlyphs">50339円</text>
<text x="888" y="192" class="bl" textLength="28" lengthAdjust="spacingAndGlyphs">156.4円</text>
<text x="876" y="202" class="bk" textLength="37" lengthAdjust="spacingAndGlyphs">高市総裁</text>
<text x="876" y="211" class="bk" textLength="17" lengthAdjust="spacingAndGlyphs">誕生</text>
</g>
<text x="900" y="125" font-size="13" font-weight="bold" fill="#CC1111" textLength="49" lengthAdjust="spacingAndGlyphs">イラン戦争</text>

<!-- series labels -->
<text x="767" y="222" font-size="22" fill="#D42020" textLength="81" lengthAdjust="spacingAndGlyphs">日経平均</text>
<text x="787" y="246" font-size="22" fill="#D42020" textLength="40" lengthAdjust="spacingAndGlyphs">株価</text>
<text x="643" y="559" font-size="20" fill="#1F3F7F" textLength="97" lengthAdjust="spacingAndGlyphs">米ドル為替</text>
<text x="667" y="584" font-size="20" fill="#1F3F7F" textLength="51" lengthAdjust="spacingAndGlyphs">レート</text>
<text x="690" y="626" font-size="15" fill="#000" textLength="193" lengthAdjust="spacingAndGlyphs">※為替レートはアメリカ市場の終値</text>

<!-- arrows -->
<polygon points="567,283 602,309 587,309 587,337 547,337 547,309 532,309" fill="#F3DDF3" stroke="#7A6A8A" stroke-width="1"/>
<text x="552" y="324" font-size="16" fill="#000" textLength="30" lengthAdjust="spacingAndGlyphs">円高</text>
<polygon points="771,420 807,420 807,446 826,446 789,469 752,446 771,446" fill="#F3DDF3" stroke="#7A6A8A" stroke-width="1"/>
<text x="775" y="444" font-size="16" fill="#000" textLength="28" lengthAdjust="spacingAndGlyphs">円安</text>

<!-- title -->
<rect x="155" y="5" width="636" height="51" fill="#FFFF00" stroke="#000" stroke-width="1.5"/>
<g font-size="29" font-weight="bold" fill="#000">
<text x="168" y="45" textLength="160" lengthAdjust="spacingAndGlyphs">米ドル為替</text>
<text x="333" y="45" textLength="60" lengthAdjust="spacingAndGlyphs">ﾚｰﾄ</text>
<text x="419" y="45" textLength="26" lengthAdjust="spacingAndGlyphs">と</text>
<text x="469" y="45" textLength="305" lengthAdjust="spacingAndGlyphs">日経平均株価の動き</text>
</g>

<!-- info boxes -->
<rect x="155" y="64" width="197" height="89" rx="16" ry="16" fill="#FFFFAA" stroke="#000" stroke-width="2.2"/>
<g font-size="22">
<text x="168" y="91" fill="#000" textLength="169" lengthAdjust="spacingAndGlyphs">’12解散宣言より</text>
<text x="168" y="115" fill="#D9261C" textLength="169" lengthAdjust="spacingAndGlyphs">株価+489.4%上昇</text>
<text x="168" y="139" fill="#1B4B91" textLength="44" lengthAdjust="spacingAndGlyphs">為替</text>
<text x="238" y="139" fill="#1B4B91" textLength="95" lengthAdjust="spacingAndGlyphs">98.6%円安</text>
</g>
<rect x="359" y="65" width="183" height="88" rx="16" ry="16" fill="#FFFFAA" stroke="#000" stroke-width="2.2"/>
<g font-size="22">
<text x="378" y="91" fill="#000" textLength="122" lengthAdjust="spacingAndGlyphs">’25年末より</text>
<text x="378" y="115" fill="#D9261C" textLength="149" lengthAdjust="spacingAndGlyphs">株価+1.4%上昇</text>
<text x="380" y="139" fill="#1B4B91" textLength="43" lengthAdjust="spacingAndGlyphs">為替</text>
<text x="448" y="139" fill="#1B4B91" textLength="87" lengthAdjust="spacingAndGlyphs">1.5%円安</text>
</g>

<!-- top right latest -->
<rect x="828" y="0" width="82" height="65" fill="#FFFF44"/>
<g font-size="19">
<text x="832" y="20" fill="#000" textLength="73" lengthAdjust="spacingAndGlyphs">26/3/31</text>
<text x="830" y="41" fill="#E03010" textLength="78" lengthAdjust="spacingAndGlyphs">51,063円</text>
<text x="838" y="62" fill="#1E5E1E" textLength="65" lengthAdjust="spacingAndGlyphs">158.7円</text>
</g>

<!-- peak box -->
<rect x="760" y="67" width="73" height="60" fill="#FFFF00" stroke="#C03CC0" stroke-width="1.2"/>
<g font-size="12" font-weight="bold">
<text x="780" y="82" fill="#000" textLength="34" lengthAdjust="spacingAndGlyphs">最高値</text>
<text x="777" y="94" fill="#000" textLength="41" lengthAdjust="spacingAndGlyphs">26/2/28</text>
<text x="775" y="106" fill="#DD1111" textLength="44" lengthAdjust="spacingAndGlyphs">58,850円</text>
<text x="779" y="118" fill="#1A3A8A" textLength="36" lengthAdjust="spacingAndGlyphs">156.0円</text>
</g>

<!-- bottom-left start box -->
<rect x="57" y="628" width="66" height="18" fill="#FFFF44"/>
<rect x="64" y="646" width="52" height="16" fill="#FFFF44"/>
<rect x="68" y="662" width="45" height="15" fill="#FFFF44"/>
<rect x="57" y="677" width="66" height="18" fill="#FFFF44"/>
<g font-size="17">
<text x="58" y="645" fill="#000" textLength="64" lengthAdjust="spacingAndGlyphs">12/11/14</text>
<text x="66" y="660" fill="#E03010" textLength="47" lengthAdjust="spacingAndGlyphs">8664円</text>
<text x="70" y="675" fill="#1E5E1E" textLength="40" lengthAdjust="spacingAndGlyphs">79.9円</text>
<text x="58" y="692" fill="#E020C0" textLength="64" lengthAdjust="spacingAndGlyphs">解散宣言</text>
</g>

<!-- footer -->
<text x="212" y="704" font-size="20" fill="#000" textLength="498" lengthAdjust="spacingAndGlyphs">（ﾃﾞｰﾀは全て当日終値；2012/11/14～2026/3/31）</text>
<text x="777" y="714" font-size="16" font-weight="bold" fill="#000" textLength="181" lengthAdjust="spacingAndGlyphs">Copyright by FP鈴木</text>
</svg>
</body></html>
